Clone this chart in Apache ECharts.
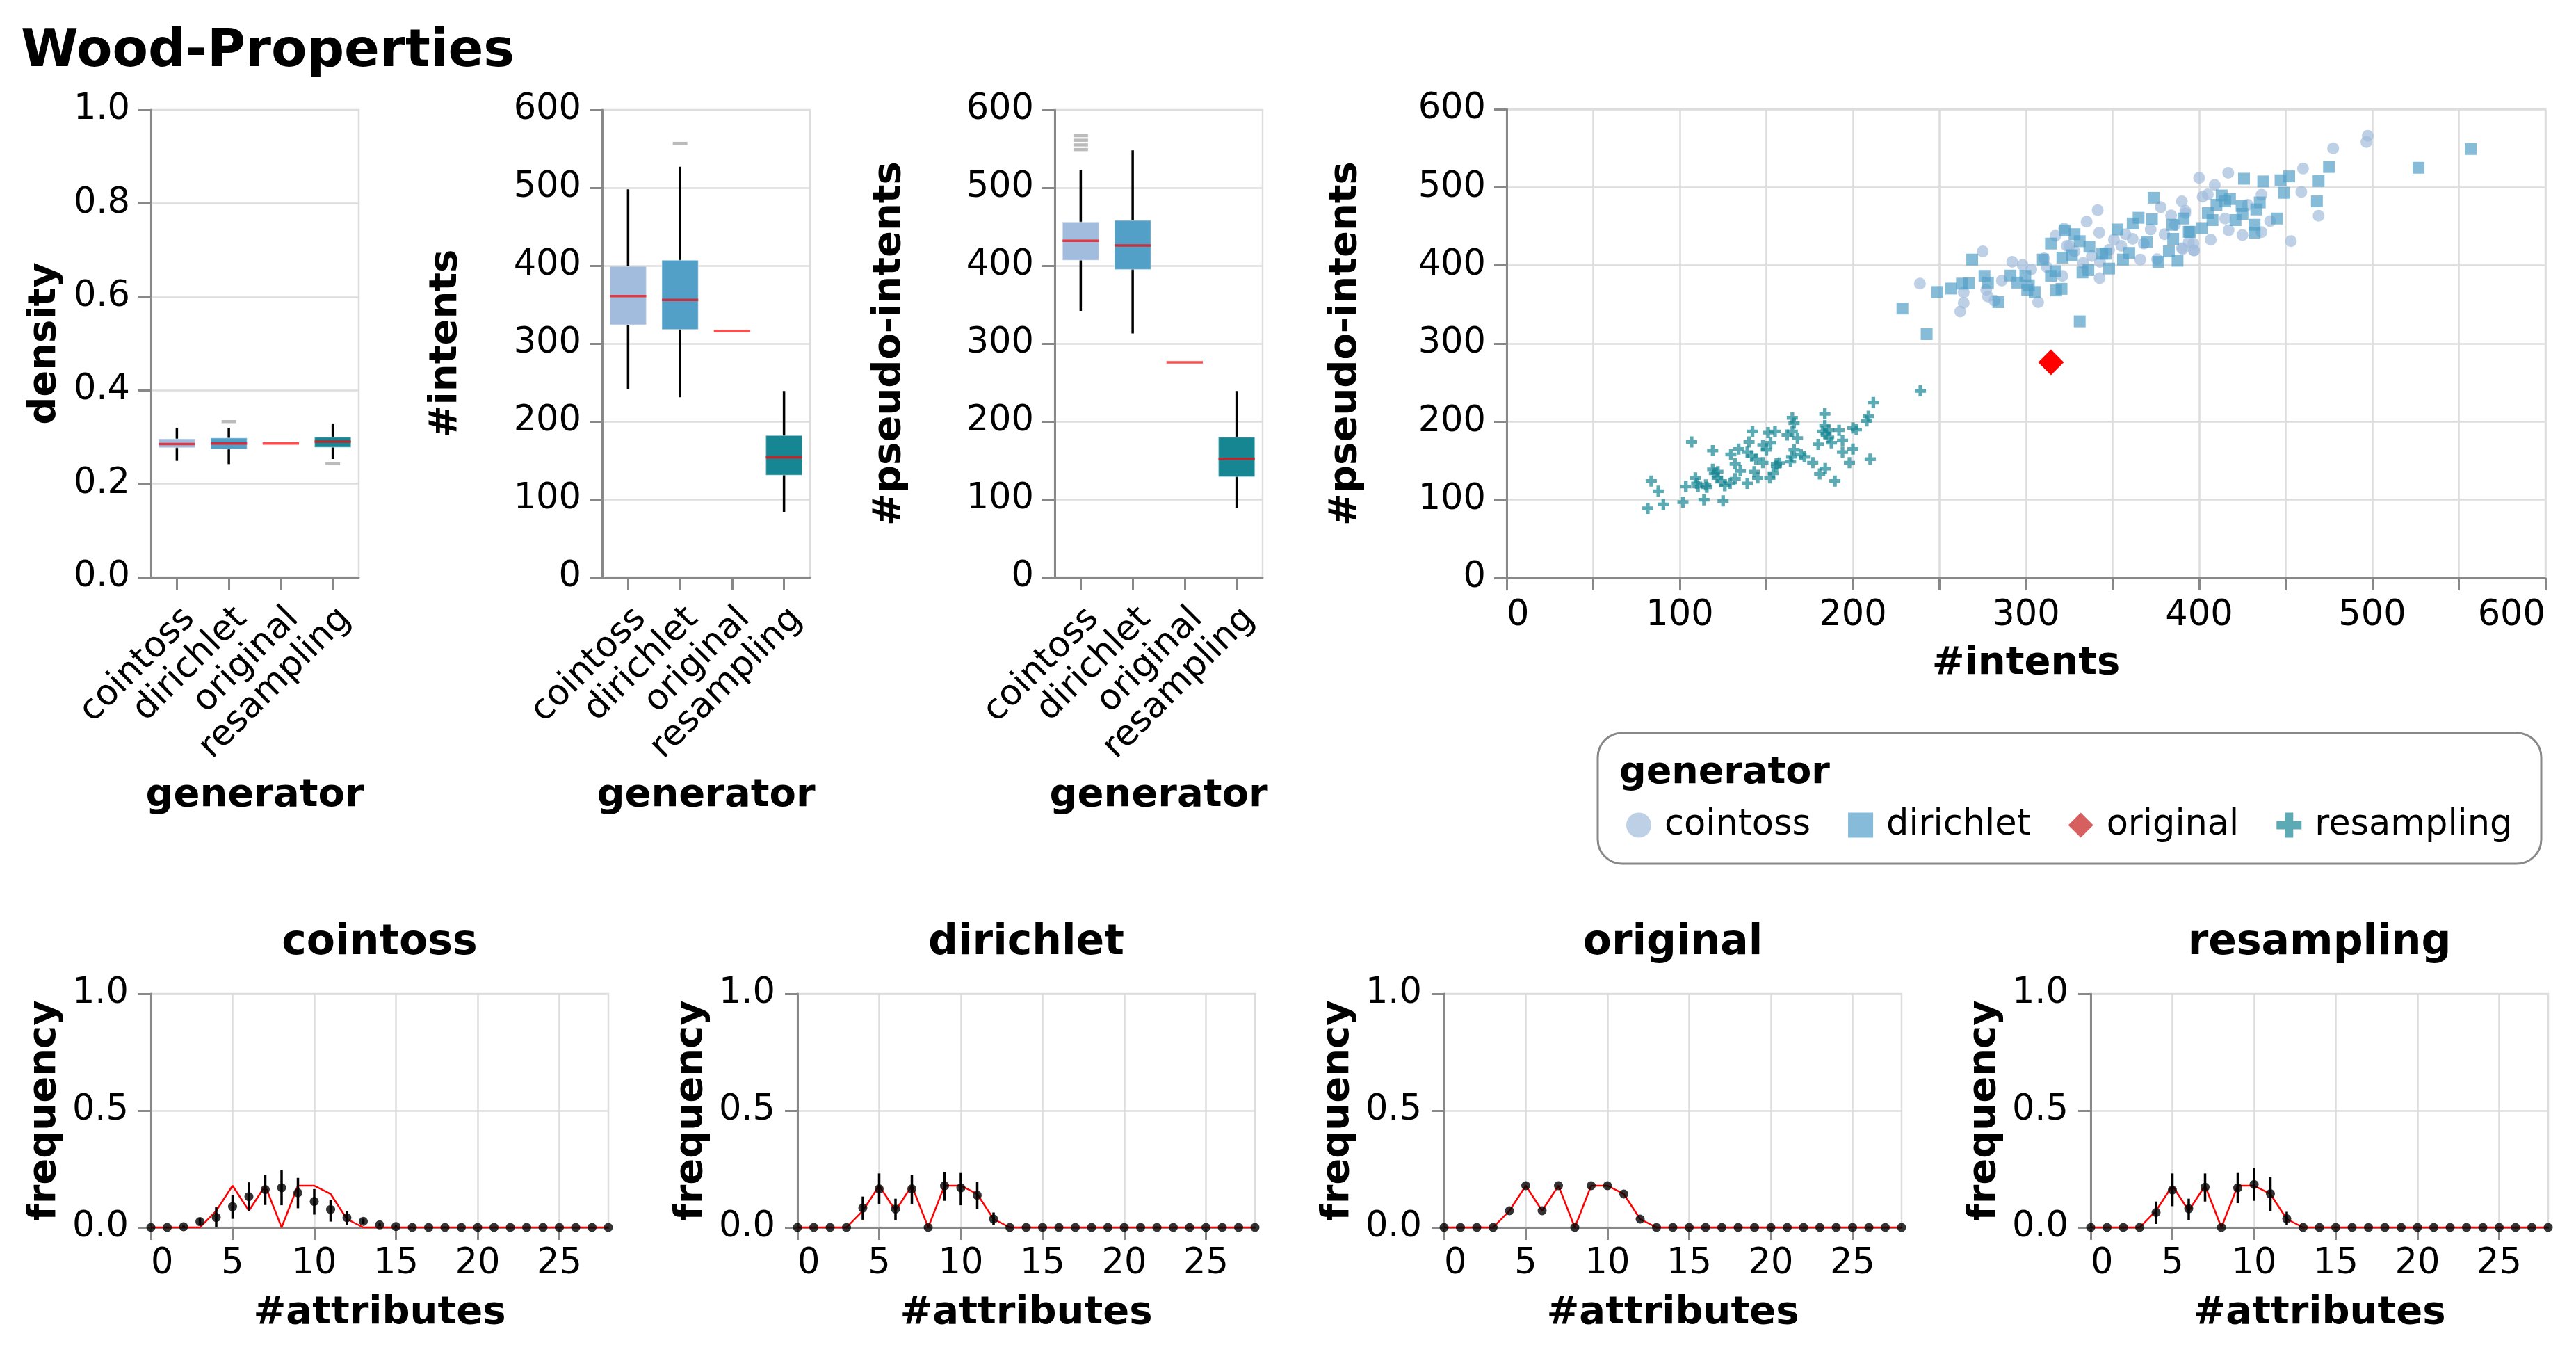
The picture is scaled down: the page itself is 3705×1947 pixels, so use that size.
<!DOCTYPE html>
<html><head><meta charset="utf-8">
<script src="https://cdn.jsdelivr.net/npm/echarts@6/dist/echarts.min.js"></script>
<style>html,body{margin:0;padding:0;background:#fff}#c{width:3705px;height:1947px}</style>
</head><body><div id="c"></div>
<script>
// ---------------- DATA ----------------
const generators = ['cointoss', 'dirichlet', 'original', 'resampling'];
// boxplot stats per generator: [min, q1, median, q3, max]
const densityStats = [[0.249,0.277,0.285,0.296,0.320],[0.242,0.274,0.286,0.298,0.320],[0.286,0.286,0.286,0.286,0.286],[0.253,0.278,0.290,0.300,0.329]];
const densityOutliers = [[1,0.333],[3,0.243]];
const intentsStats = [[241,324,361,399,498],[231,318,356,407,527],[316,316,316,316,316],[84,131,154,182,239]];
const intentsOutliers = [[1,557]];
const pseudoStats = [[342,407,432,456,523],[313,395,426,458,548],[276,276,276,276,276],[89,129,152,180,239]];
const pseudoOutliers = [[0,567],[0,561],[0,555],[0,549]];

// scatter points [#intents, #pseudo-intents]
const scatterCointoss = [[238.7,376.7],[275,418],[264,365.7],[264,352],[262,341],[277,368.7],[278,360],[281.8,355],[286,380.6],[292,404.5],[298,400.6],[307,353],[310.4,409],[317,438],[322,447],[325,425],[335,456],[341.4,470.7],[342.3,442],[342.5,383.6],[342.7,404.5],[350.8,433],[357.5,440],[361.6,434],[366,407.5],[375.7,408],[377.8,474.6],[383.8,464],[390,482],[390.6,421],[396.6,428],[397,419],[321,386.6],[333,403],[323.6,425],[392,470],
 [497.4,566],[496.6,558],[477.4,550],[460,524],[459,494],[469,463.6],[453,431],[441,456.7],[436,442.7],[436,490.4],[425,438.8],[417,445],[415,460],[406.7,432.8],[409,503],[416.8,518.5],[400,512],[402,488],[405,491],[397,419.4],[394,430],[390,422],[428,477.6],[392,467],
 [303,395],[312,398],[328,418],[338,412],[348,420],[355,425],[368,428],[372,446],[380,440],[386,452]];
const scatterDirichlet = [[228.6,344.8],[242.6,312],[248.8,366],[256.7,370.4],[263,376.7],[267,377],[268.9,407.5],[276,386.6],[278,378],[284,353],[291,387],[295,378],[299.6,386.6],[301.6,374.6],[305,366],[300.7,368.7],[309.7,407.5],[314.4,428],[314.4,386.6],[317,392.5],[317.4,368],[320.5,370],[322.5,444.8],[328,440],[321,410],[326.5,413],[331,431],[336.6,424],[332.6,391],[336,394],[344,415],[346,415],[348,396],[352.8,446],[356,407.5],[359.6,416],[361.6,453.7],[365,461],[369.7,430],[372.7,459],[376.4,404.5],[382.5,418],[384.5,452],[387.5,406],[394.7,443],[385,434],[373.7,486.6],[391,460],[331,328.4],
 [425.9,511],[437,507.5],[447,509],[452,514],[469,508],[475,526],[526.7,525],[556.9,549],[449,493],[468,482],[445,460],[432,452],[432,442],[425,466],[421,458],[435,480.6],[433,471.6],[413,489.6],[417.8,485],[410,477.6],[405,467],[407.7,458],[401.6,447.8],[394,443],[415,482],[424.5,476]];
const scatterOriginal = [[314.4,276]];
const scatterResampling = [[81.5,89],[83.5,124],[87.6,111],[90.5,94],[101.8,97],[103.5,117],[106.8,174],[109,128],[110.5,117],[114,100],[115,119],[119,163],[119,139],[122,136],[125,98.5],[126,118],[124,124],[129,121],[129.5,158],[132,146],[134,165],[135,137],[139,121],[140,174],[142,187.5],[141.6,156],[143,136],[145,128],[148,147.5],[150,164],[151,186],[152.4,173],[155,187.5],[155.8,146],[154,134],[157.6,147],[162,183],[165,205],[166,198],[165,187.5],[168,179],[166,164],[164.6,155],[164,149],[172,155],[176.8,147.5],[180.8,133],[184,140],[189.6,124],[180,171],[183.8,210],[182.5,187.5],[184.5,184.6],[186,180],[187.6,173],[192,189],[194,176],[194,161],[198,147.5],[200,165],[200,192],[208,201],[209,207],[210,152],[211.8,224.6],[239,239.5],[121.6,128],[132,127],[139,161],[148,170],[155.8,143],[144,152],[120,134],[109.8,121],[115.6,116],[152,128],[170,158],[186,189],[183.8,195],[202,190]];

// attribute-count frequency distributions
const attrCounts = [0,1,2,3,4,5,6,7,8,9,10,11,12,13,14,15,16,17,18,19,20,21,22,23,24,25,26,27,28];
const attrTicks = [0,5,10,15,20,25];
const originalFreq   = [0,0,0,0,0.0714,0.1786,0.0714,0.1786,0,0.1786,0.1786,0.1429,0.0357,0,0,0,0,0,0,0,0,0,0,0,0,0,0,0,0];
const cointossMean   = [0,0,0.003,0.025,0.043,0.089,0.132,0.162,0.170,0.148,0.111,0.077,0.042,0.026,0.011,0.004,0,0,0,0,0,0,0,0,0,0,0,0,0];
const cointossLo     = [0,0,0,0.012,0,0.037,0.070,0.096,0.095,0.082,0.055,0.025,0.009,0.015,0.005,0,0,0,0,0,0,0,0,0,0,0,0,0,0];
const cointossHi     = [0,0,0.008,0.040,0.086,0.139,0.193,0.225,0.245,0.212,0.164,0.117,0.070,0.037,0.017,0.008,0,0,0,0,0,0,0,0,0,0,0,0,0];
const dirichletMean  = [0,0,0,0,0.083,0.165,0.079,0.165,0,0.178,0.169,0.138,0.036,0,0,0,0,0,0,0,0,0,0,0,0,0,0,0,0];
const dirichletLo    = [0,0,0,0,0.033,0.099,0.030,0.101,0,0.114,0.095,0.079,0.009,0,0,0,0,0,0,0,0,0,0,0,0,0,0,0,0];
const dirichletHi    = [0,0,0,0,0.132,0.231,0.123,0.225,0,0.237,0.233,0.196,0.064,0,0,0,0,0,0,0,0,0,0,0,0,0,0,0,0];
const resamplingMean = [0,0,0,0,0.064,0.160,0.080,0.172,0,0.169,0.184,0.144,0.037,0,0,0,0,0,0,0,0,0,0,0,0,0,0,0,0];
const resamplingLo   = [0,0,0,0,0.015,0.091,0.031,0.111,0,0.104,0.114,0.070,0.009,0,0,0,0,0,0,0,0,0,0,0,0,0,0,0,0];
const resamplingHi   = [0,0,0,0,0.111,0.231,0.123,0.231,0,0.233,0.253,0.216,0.067,0,0,0,0,0,0,0,0,0,0,0,0,0,0,0,0];

// ---------------- STYLE ----------------
const FONT = 'DejaVu Sans';
const boxColors = ['#a1bcdc', '#529fc8', '#ff0000', '#178693'];
const legendColors = ['#bed0e6', '#86bbd9', '#d65f5f', '#5cabb4'];
const crossPath = 'path://M2,0H4V2H6V4H4V6H2V4H0V2H2Z';
const axisLine = {show: true, lineStyle: {color: '#888', width: 3}};
const axisTick = {show: true, length: 18, lineStyle: {color: '#888', width: 3}};
const splitLine = {show: true, lineStyle: {color: '#ddd', width: 2.5}};
const nameStyle = {fontSize: 56, fontWeight: 'bold', color: '#000', fontFamily: FONT};
const labelStyle = {fontSize: 51, color: '#000', fontFamily: FONT};

const boxGrids = [217, 866, 1517];
const freqGrids = [217, 1147, 2077, 3007];

const grids = [];
boxGrids.forEach(l => grids.push({left: l, top: 158, width: 299, height: 672}));
grids.push({left: 2167, top: 157, width: 1494, height: 674});
freqGrids.forEach(l => grids.push({left: l, top: 1429, width: 658, height: 336}));
grids.forEach(g => { g.show = true; g.borderColor = '#ddd'; g.borderWidth = 2.5; g.containLabel = false; });

const xAxes = [], yAxes = [];
const boxYNames = ['density', '#intents', '#pseudo-intents'];
const boxYGaps = [125, 197, 210];
for (let i = 0; i < 3; i++) {
  xAxes.push({type: 'category', gridIndex: i, data: generators,
    axisLine, axisTick: Object.assign({alignWithLabel: true}, axisTick), splitLine: {show: false},
    axisLabel: Object.assign({rotate: 45, margin: 34, interval: 0, verticalAlign: 'top'}, labelStyle),
    name: 'generator', nameLocation: 'middle', nameGap: 286, nameTextStyle: nameStyle});
  const isDensity = i === 0;
  yAxes.push({type: 'value', gridIndex: i, min: 0, max: isDensity ? 1 : 600, interval: isDensity ? 0.2 : 100,
    axisLine, axisTick, splitLine,
    axisLabel: Object.assign({margin: 30, formatter: v => isDensity ? v.toFixed(1) : String(v)}, labelStyle),
    name: boxYNames[i], nameLocation: 'middle', nameGap: boxYGaps[i], nameTextStyle: nameStyle});
}
xAxes.push({type: 'value', gridIndex: 3, min: 0, max: 600, interval: 50,
  axisLine, axisTick, splitLine,
  axisLabel: Object.assign({margin: 29, alignMinLabel: 'left', alignMaxLabel: 'right',
    formatter: v => (v % 100 === 0 ? String(v) : '')}, labelStyle),
  name: '#intents', nameLocation: 'middle', nameGap: 95, nameTextStyle: nameStyle});
yAxes.push({type: 'value', gridIndex: 3, min: 0, max: 600, interval: 100,
  axisLine, axisTick, splitLine,
  axisLabel: Object.assign({margin: 30}, labelStyle),
  name: '#pseudo-intents', nameLocation: 'middle', nameGap: 204, nameTextStyle: nameStyle});
for (let k = 0; k < 4; k++) {
  xAxes.push({type: 'value', gridIndex: 4 + k, min: 0, max: 28, interval: 5,
    axisLine, axisTick: Object.assign({customValues: attrTicks}, axisTick), splitLine,
    axisLabel: Object.assign({margin: 27, alignMinLabel: 'left', customValues: attrTicks}, labelStyle),
    name: '#attributes', nameLocation: 'middle', nameGap: 95, nameTextStyle: nameStyle});
  yAxes.push({type: 'value', gridIndex: 4 + k, min: 0, max: 1, interval: 0.5,
    axisLine, axisTick, splitLine,
    axisLabel: Object.assign({margin: 32, formatter: v => v.toFixed(1)}, labelStyle),
    name: 'frequency', nameLocation: 'middle', nameGap: 125, nameTextStyle: nameStyle});
}

function boxSeries(stats, idx) {
  return {type: 'custom', xAxisIndex: idx, yAxisIndex: idx, z: 3,
    data: stats.map((s, i) => [i].concat(s)),
    encode: {x: 0, y: [1, 2, 3, 4, 5]},
    renderItem(params, api) {
      const i = api.value(0);
      const c = v => api.coord([i, v]);
      const bw = api.size([1, 0])[0] * 0.7;
      const pMin = c(api.value(1)), pQ1 = c(api.value(2)), pMd = c(api.value(3)), pQ3 = c(api.value(4)), pMax = c(api.value(5));
      const x = pMd[0];
      const children = [];
      if (api.value(5) > api.value(1)) {
        children.push({type: 'line', shape: {x1: x, y1: pMin[1], x2: x, y2: pMax[1]}, style: {stroke: '#000', lineWidth: 3.5}});
        children.push({type: 'rect', shape: {x: x - bw / 2, y: pQ3[1], width: bw, height: pQ1[1] - pQ3[1]},
          style: {fill: boxColors[i], stroke: 'rgba(255,255,255,0.35)', lineWidth: 1.5}});
      }
      children.push({type: 'line', shape: {x1: x - bw / 2, y1: pMd[1], x2: x + bw / 2, y2: pMd[1]},
        style: {stroke: 'rgba(255,0,0,0.7)', lineWidth: 3.5}});
      return {type: 'group', children};
    }};
}
function outlierSeries(data, idx) {
  return {type: 'scatter', xAxisIndex: idx, yAxisIndex: idx, data, symbol: 'rect', symbolSize: [21, 4.5],
    itemStyle: {color: '#aaa'}, z: 4, silent: true};
}

const series = [
  boxSeries(densityStats, 0), outlierSeries(densityOutliers, 0),
  boxSeries(intentsStats, 1), outlierSeries(intentsOutliers, 1),
  boxSeries(pseudoStats, 2), outlierSeries(pseudoOutliers, 2),
  {name: 'cointoss', type: 'scatter', xAxisIndex: 3, yAxisIndex: 3, data: scatterCointoss, symbol: 'circle', symbolSize: 17,
   itemStyle: {color: boxColors[0], opacity: 0.7}},
  {name: 'dirichlet', type: 'scatter', xAxisIndex: 3, yAxisIndex: 3, data: scatterDirichlet, symbol: 'rect', symbolSize: 17,
   itemStyle: {color: boxColors[1], opacity: 0.7}},
  {name: 'resampling', type: 'scatter', xAxisIndex: 3, yAxisIndex: 3, data: scatterResampling, symbol: crossPath, symbolSize: 16,
   itemStyle: {color: boxColors[3], opacity: 0.7}},
  {name: 'original', type: 'scatter', xAxisIndex: 3, yAxisIndex: 3, data: scatterOriginal, symbol: 'diamond', symbolSize: 37,
   itemStyle: {color: '#ff0000', opacity: 1}, z: 5}
];

const freqSets = [
  [cointossMean, cointossLo, cointossHi],
  [dirichletMean, dirichletLo, dirichletHi],
  [originalFreq, originalFreq, originalFreq],
  [resamplingMean, resamplingLo, resamplingHi]
];
freqSets.forEach((set, k) => {
  const ai = 4 + k;
  const [mean, lo, hi] = set;
  series.push({type: 'line', xAxisIndex: ai, yAxisIndex: ai, data: attrCounts.map((a, j) => [a, originalFreq[j]]),
    showSymbol: false, lineStyle: {color: '#ff0000', width: 2.5}, itemStyle: {color: '#ff0000'}, z: 2, silent: true});
  series.push({type: 'custom', xAxisIndex: ai, yAxisIndex: ai, z: 3,
    data: attrCounts.map((a, j) => [a, lo[j], hi[j]]),
    encode: {x: 0, y: [1, 2]},
    renderItem(params, api) {
      const p1 = api.coord([api.value(0), api.value(1)]);
      const p2 = api.coord([api.value(0), api.value(2)]);
      return {type: 'line', shape: {x1: p1[0], y1: p1[1], x2: p2[0], y2: p2[1]}, style: {stroke: '#000', lineWidth: 3.5}};
    }});
  series.push({type: 'scatter', xAxisIndex: ai, yAxisIndex: ai, data: attrCounts.map((a, j) => [a, mean[j]]),
    symbol: 'circle', symbolSize: 13, itemStyle: {color: '#000'}, z: 4, silent: true});
});

const facetCenters = freqGrids.map(l => l + 329);
const graphics = [
  {type: 'text', x: 30, y: 76, style: {text: 'Wood-Properties', font: 'bold 75px "' + FONT + '"', fill: '#000', textAlign: 'left', textVerticalAlign: 'middle', align: 'left', verticalAlign: 'middle'}},
  {type: 'rect', shape: {x: 2298, y: 1054, width: 1357, height: 188, r: 35}, style: {fill: 'none', stroke: '#888', lineWidth: 3}},
  {type: 'text', x: 2329, y: 1112, style: {text: 'generator', font: 'bold 54px "' + FONT + '"', fill: '#000', textAlign: 'left', textVerticalAlign: 'middle', align: 'left', verticalAlign: 'middle'}}
];
generators.forEach((g, k) => {
  graphics.push({type: 'text', x: facetCenters[k], y: 1356, style: {text: g, font: 'bold 60px "' + FONT + '"', fill: '#000', textAlign: 'center', textVerticalAlign: 'middle', align: 'center', verticalAlign: 'middle'}});
});

const option = {
  animation: false,
  backgroundColor: '#fff',
  textStyle: {fontFamily: FONT},
  grid: grids,
  xAxis: xAxes,
  yAxis: yAxes,
  legend: {
    left: 2334, top: 1156, orient: 'horizontal', itemWidth: 36, itemHeight: 36, itemGap: 54, selectedMode: false,
    textStyle: {fontSize: 51, color: '#000', fontFamily: FONT, padding: [0, 0, 0, 14]},
    data: generators.map((g, i) => ({name: g, icon: ['circle', 'rect', 'diamond', crossPath][i],
      itemStyle: {color: legendColors[i], opacity: 1, borderWidth: 0}}))
  },
  graphic: graphics,
  series
};
const chart = echarts.init(document.getElementById('c'), null, {renderer: 'canvas'});
chart.setOption(option);
</script>
</body></html>
